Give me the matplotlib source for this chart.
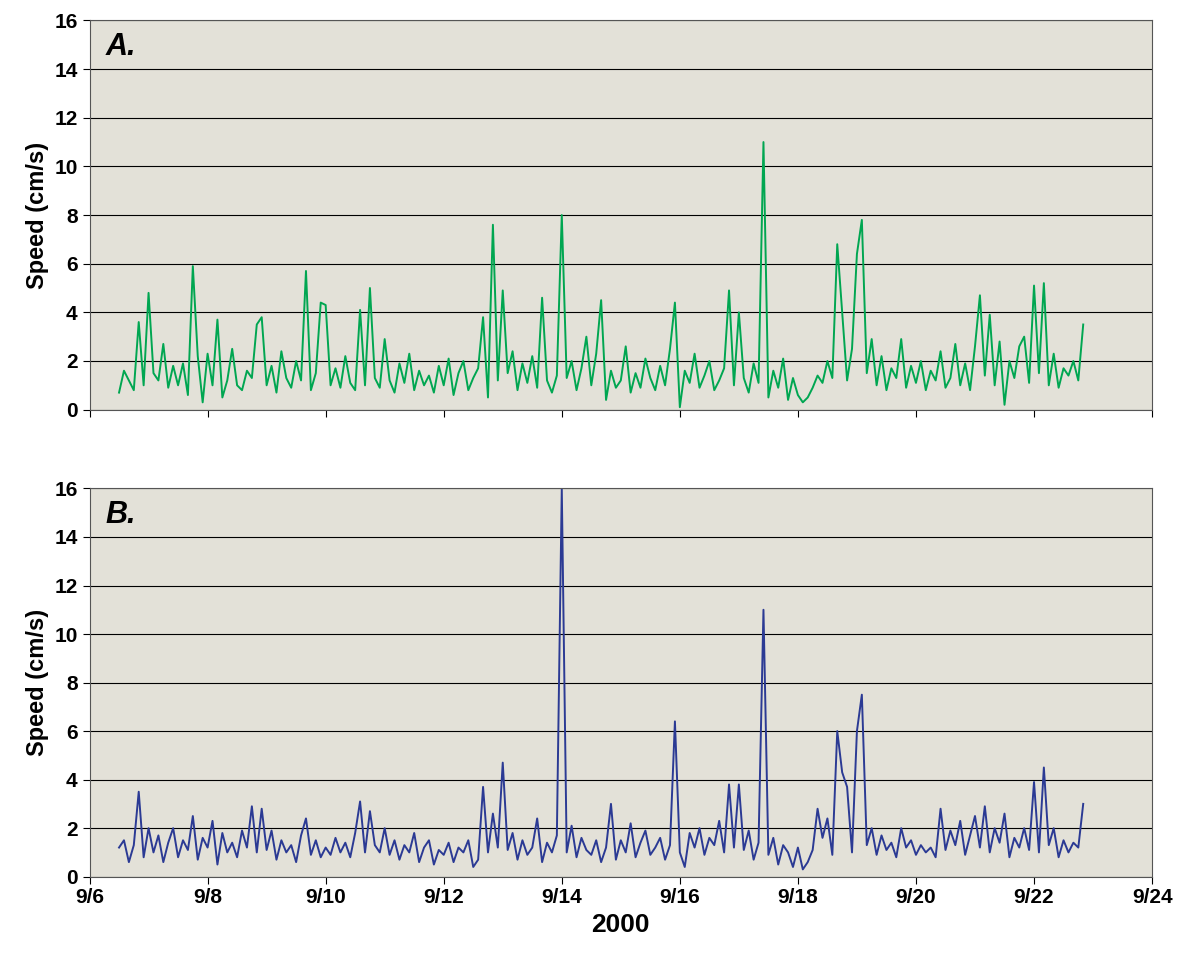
import numpy as np
import matplotlib.pyplot as plt

plt.rcParams['font.family'] = ['Liberation Sans Narrow', 'Liberation Sans', 'DejaVu Sans']
plt.rcParams['font.weight'] = 'bold'
plt.rcParams['axes.labelweight'] = 'bold'

# 2-hourly speed samples (cm/s), starting 9/6 12:00
speed_a = [
    0.7, 1.6, 1.2, 0.8, 3.6, 1.0,
    4.8, 1.5, 1.2, 2.7, 0.9, 1.8, 1.0, 1.9, 0.6, 5.9, 2.2, 0.3,
    2.3, 1.0, 3.7, 0.5, 1.2, 2.5, 1.0, 0.8, 1.6, 1.3, 3.5, 3.8,
    1.0, 1.8, 0.7, 2.4, 1.3, 0.9, 2.0, 1.2, 5.7, 0.8, 1.5, 4.4,
    4.3, 1.0, 1.7, 0.9, 2.2, 1.1, 0.8, 4.1, 1.0, 5.0, 1.3, 0.9,
    2.9, 1.2, 0.7, 1.9, 1.1, 2.3, 0.8, 1.6, 1.0, 1.4, 0.7, 1.8,
    1.0, 2.1, 0.6, 1.5, 2.0, 0.8, 1.3, 1.7, 3.8, 0.5, 7.6, 1.2,
    4.9, 1.5, 2.4, 0.8, 1.9, 1.1, 2.2, 0.9, 4.6, 1.2, 0.7, 1.4,
    8.0, 1.3, 2.0, 0.8, 1.7, 3.0, 1.0, 2.3, 4.5, 0.4, 1.6, 0.9,
    1.2, 2.6, 0.7, 1.5, 0.9, 2.1, 1.3, 0.8, 1.8, 1.0, 2.5, 4.4,
    0.1, 1.6, 1.1, 2.3, 0.9, 1.4, 2.0, 0.8, 1.2, 1.7, 4.9, 1.0,
    4.0, 1.3, 0.7, 1.9, 1.1, 11.0, 0.5, 1.6, 0.9, 2.1, 0.4, 1.3,
    0.6, 0.3, 0.5, 0.9, 1.4, 1.1, 2.0, 1.3, 6.8, 4.0, 1.2, 2.5,
    6.4, 7.8, 1.5, 2.9, 1.0, 2.2, 0.8, 1.7, 1.3, 2.9, 0.9, 1.8,
    1.1, 2.0, 0.8, 1.6, 1.2, 2.4, 0.9, 1.3, 2.7, 1.0, 1.9, 0.8,
    2.6, 4.7, 1.4, 3.9, 1.0, 2.8, 0.2, 2.0, 1.3, 2.6, 3.0, 1.1,
    5.1, 1.5, 5.2, 1.0, 2.3, 0.9, 1.7, 1.4, 2.0, 1.2, 3.5,
]
speed_b = [
    1.2, 1.5, 0.6, 1.3, 3.5, 0.8,
    2.0, 1.0, 1.7, 0.6, 1.4, 2.0, 0.8, 1.5, 1.1, 2.5, 0.7, 1.6,
    1.2, 2.3, 0.5, 1.8, 1.0, 1.4, 0.8, 1.9, 1.2, 2.9, 1.0, 2.8,
    1.1, 1.9, 0.7, 1.5, 1.0, 1.3, 0.6, 1.7, 2.4, 0.9, 1.5, 0.8,
    1.2, 0.9, 1.6, 1.0, 1.4, 0.8, 1.8, 3.1, 1.0, 2.7, 1.3, 1.0,
    2.0, 0.9, 1.5, 0.7, 1.3, 1.0, 1.8, 0.6, 1.2, 1.5, 0.5, 1.1,
    0.9, 1.4, 0.6, 1.2, 1.0, 1.5, 0.4, 0.7, 3.7, 1.0, 2.6, 1.2,
    4.7, 1.1, 1.8, 0.7, 1.5, 0.9, 1.2, 2.4, 0.6, 1.4, 1.0, 1.7,
    16.0, 1.0, 2.1, 0.8, 1.6, 1.1, 0.9, 1.5, 0.6, 1.2, 3.0, 0.7,
    1.5, 1.0, 2.2, 0.8, 1.4, 1.9, 0.9, 1.2, 1.6, 0.7, 1.3, 6.4,
    1.0, 0.4, 1.8, 1.2, 2.0, 0.9, 1.6, 1.3, 2.3, 1.0, 3.8, 1.2,
    3.8, 1.1, 1.9, 0.7, 1.4, 11.0, 0.9, 1.6, 0.5, 1.3, 1.0, 0.4,
    1.2, 0.3, 0.6, 1.1, 2.8, 1.6, 2.4, 0.9, 6.0, 4.3, 3.7, 1.0,
    6.0, 7.5, 1.3, 2.0, 0.9, 1.7, 1.1, 1.4, 0.8, 2.0, 1.2, 1.5,
    0.9, 1.3, 1.0, 1.2, 0.8, 2.8, 1.1, 1.9, 1.3, 2.3, 0.9, 1.7,
    2.5, 1.2, 2.9, 1.0, 2.0, 1.4, 2.6, 0.8, 1.6, 1.2, 2.0, 1.1,
    3.9, 1.0, 4.5, 1.3, 2.0, 0.8, 1.5, 1.0, 1.4, 1.2, 3.0,
]
start_day = 6.5
step = 2 / 24
tick_days = [6, 8, 10, 12, 14, 16, 18, 20, 22, 24]
tick_labels = ['9/%d' % d for d in tick_days]

fig = plt.figure(figsize=(11.78, 9.73), dpi=100)
ax1 = fig.add_axes([0.076, 0.579, 0.902, 0.400])
ax2 = fig.add_axes([0.076, 0.099, 0.902, 0.399])

for ax, data, color, tag in [(ax1, speed_a, '#00A651', 'A.'), (ax2, speed_b, '#2B3A94', 'B.')]:
    t = start_day + step * np.arange(len(data))
    ax.set_facecolor('#E3E1D8')
    ax.plot(t, data, color=color, lw=1.4)
    ax.set_xlim(6, 24)
    ax.set_ylim(0, 16)
    ax.set_yticks(range(0, 17, 2))
    ax.grid(axis='y', color='black', lw=0.8)
    ax.set_axisbelow(True)
    ax.set_xticks(tick_days)
    ax.set_ylabel('Speed (cm/s)', fontsize=17, fontweight='bold')
    ax.tick_params(labelsize=15, length=5)
    ax.text(0.015, 0.97, tag, transform=ax.transAxes, fontsize=22,
            style='italic', fontweight='bold', va='top', ha='left')
    for s in ax.spines.values():
        s.set_color('#555555')

ax1.set_xticklabels([])
ax2.set_xticklabels(tick_labels)
ax2.set_xlabel('2000', fontsize=19, fontweight='bold')

fig.savefig('out.png', dpi=100)
